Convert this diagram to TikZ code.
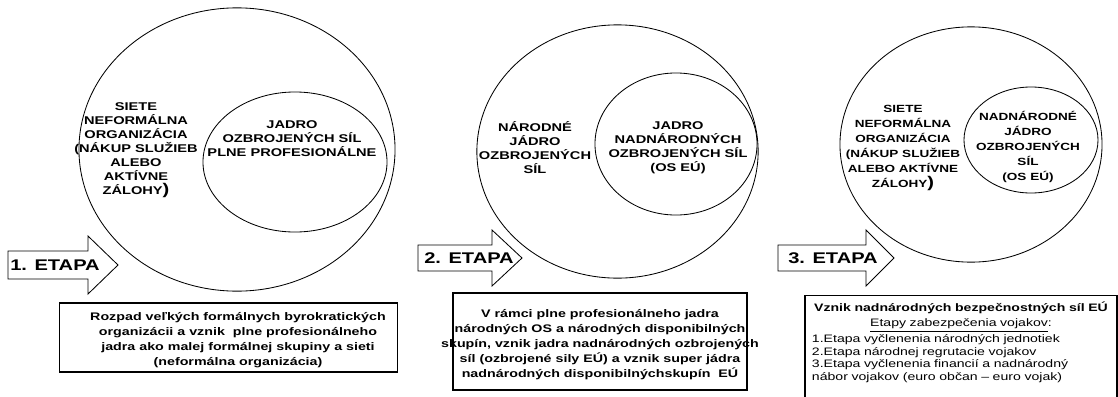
\documentclass[tikz,border=0pt]{standalone}
\usepackage{fontspec}
\setmainfont{Liberation Sans}[FakeStretch=1.3]
\usetikzlibrary{shapes.geometric}

\begin{document}
\begin{tikzpicture}
      [x=0.025cm, y=-0.025cm,
       ring/.style={
           ellipse,
           draw=black, line width=0.6pt,
           inner sep=0pt
         },
       incircle/.style={
           align=center, inner sep=0pt,
           font=\fontsize{8}{9.96}\selectfont\bfseries
         },
       stage/.style={
           draw=black, line width=0.6pt, fill=white
         },
       stagetext/.style={
           inner sep=0pt,
           font=\fontsize{11}{12}\selectfont\bfseries
         },
       frame/.style={
           rectangle,
           draw=black, line width=0.9pt,
           inner sep=0pt
         },
       summary/.style={
           align=center, inner sep=0pt,
           font=\fontsize{7.8}{10.67}\selectfont\bfseries
         },
       ]
    \useasboundingbox (0,0) rectangle (1118,396);

    \node [ring, minimum width=7.9cm, minimum height=7.08cm] (outer1) at (237,149.5) {};
    \node [ring, minimum width=4.6cm, minimum height=3.5cm] (core1) at (295,162) {};
    \node [ring, minimum width=7.03cm, minimum height=6.33cm] (outer2) at (617.5,151.5) {};
    \node [ring, minimum width=4.05cm, minimum height=3.55cm] (core2) at (676,144) {};
    \node [ring, minimum width=6.55cm, minimum height=5.88cm] (outer3) at (971,144.5) {};
    \node [ring, minimum width=3.35cm, minimum height=2.65cm] (core3) at (1031,140) {};

    \node [incircle] (net1) at (136,150) {
      SIETE\\ NEFORMÁLNA\\ ORGANIZÁCIA\\ (NÁKUP SLUŽIEB\\ ALEBO\\ AKTÍVNE\\
      ZÁLOHY{\fontsize{11}{11}\selectfont)}
    };
    \node [incircle] (army1) at (292,139) {
      JADRO\\ OZBROJENÝCH SÍL\\ PLNE PROFESIONÁLNE
    };
    \node [incircle] (nat2) at (535,148) {
      NÁRODNÉ\\ JÁDRO\\ OZBROJENÝCH\\ SÍL
    };
    \node [incircle] (eu2) at (678,148) {
      JADRO\\ NADNÁRODNÝCH\\ OZBROJENÝCH SÍL\\ (OS EÚ)
    };
    \node [incircle, font=\fontsize{7.4}{10.67}\selectfont\bfseries] (net3) at (903,148) {
      SIETE\\ NEFORMÁLNA\\ ORGANIZÁCIA\\ (NÁKUP SLUŽIEB\\ ALEBO AKTÍVNE\\
      ZÁLOHY{\fontsize{11}{11}\selectfont)}
    };
    \node [incircle, font=\fontsize{7.4}{10.67}\selectfont\bfseries] (eu3) at (1028,147) {
      NADNÁRODNÉ\\ JÁDRO\\ OZBROJENÝCH\\ SÍL\\ (OS EÚ)
    };

    \draw [stage] (8,251) -- (88,251) -- (88,236) -- (118,265) -- (88,294) -- (88,279) -- (8,279) -- cycle;
    \node [stagetext] (stage1) at (55,265) {1. ETAPA};
    \draw [stage] (418,245) -- (492,245) -- (492,230) -- (522,258) -- (492,286) -- (492,271) -- (418,271) -- cycle;
    \node [stagetext] (stage2) at (469,258) {2. ETAPA};
    \draw [stage] (778,245) -- (866,245) -- (866,230) -- (894,258) -- (866,286) -- (866,271) -- (778,271) -- cycle;
    \node [stagetext] (stage3) at (833,258) {3. ETAPA};

    \node [frame, minimum width=8.43cm, minimum height=1.73cm] (box1) at (228.5,337.5) {};
    \node [summary] (sum1) at (238,340) {
      Rozpad veľkých formálnych byrokratických\\
      organizácii a vznik\ \ plne profesionálneho\\
      jadra ako malej formálnej skupiny a sieti\\
      (neformálna organizácia)
    };
    \node [frame, minimum width=7.35cm, minimum height=2.43cm] (box2) at (600,341.5) {};
    \node [summary] (sum2) at (600,345) {
      V rámci plne profesionálneho jadra\\
      národných OS a národných disponibilných\\
      skupín, vznik jadra nadnárodných ozbrojených\\
      síl (ozbrojené sily EÚ) a vznik super jádra\\
      nadnárodných disponibilnýchskupín\ \ EÚ
    };
    \node [frame, minimum width=7.8cm, minimum height=3.6cm, anchor=north] (box3) at (961,295) {};
    \node [anchor=north, inner sep=0pt, text width=7.45cm, align=left,
           font=\fontsize{7.7}{8.9}\selectfont] (sum3) at (961,302) {
      \makebox[\linewidth][c]{\bfseries Vznik nadnárodných bezpečnostných síl EÚ}\\[1.6pt]
      \makebox[\linewidth][c]{\underline{Etapy zabezpečenia vojakov}:}\\[1.2pt]
      1.Etapa vyčlenenia národných jednotiek\\
      2.Etapa národnej regrutacie vojakov\\
      3.Etapa vyčlenenia financií a nadnárodný\\
      nábor vojakov (euro občan -- euro vojak)
    };
\end{tikzpicture}
\end{document}
